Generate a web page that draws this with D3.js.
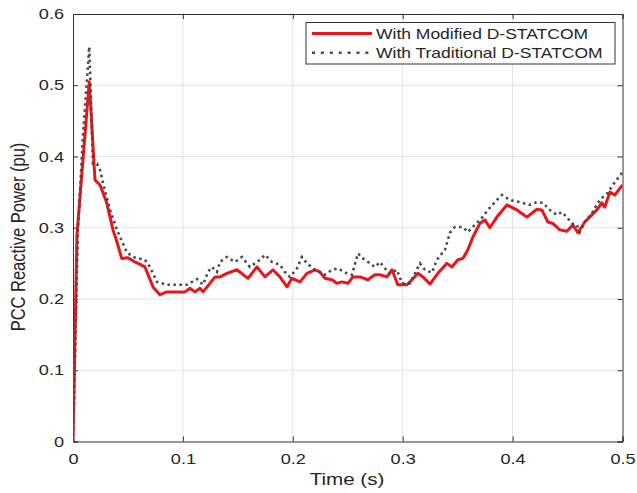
<!DOCTYPE html>
<html>
<head>
<meta charset="utf-8">
<script src="https://cdn.jsdelivr.net/npm/d3@7/dist/d3.min.js"></script>
<style>
  html, body { margin: 0; padding: 0; background: #fff; }
  svg { display: block; }
  text { font-family: "Liberation Sans", Arial, sans-serif; fill: #262626; }
</style>
</head>
<body>
<svg id="chart" width="637" height="493"></svg>
<script>
// PCC reactive power response, modified vs traditional D-STATCOM
const modTime = [0, 0.0036, 0.0148, 0.0200, 0.0246, 0.0307, 0.0364, 0.0400, 0.0443, 0.0500,
  0.0564, 0.0655, 0.0728, 0.0791, 0.0855, 0.1019, 0.1064, 0.1110, 0.1155, 0.1183,
  0.1246, 0.1292, 0.1337, 0.1401, 0.1492, 0.1592, 0.1674, 0.1747, 0.1819, 0.1883,
  0.1947, 0.1992, 0.2065, 0.2129, 0.2201, 0.2247, 0.2292, 0.2356, 0.2402, 0.2447,
  0.2502, 0.2547, 0.2611, 0.2683, 0.2747, 0.2793, 0.2856, 0.2902, 0.2956, 0.3038,
  0.3084, 0.3138, 0.3184, 0.3248, 0.3320, 0.3402, 0.3448, 0.3502, 0.3548, 0.3593,
  0.3639, 0.3702, 0.3748, 0.3793, 0.3857, 0.3948, 0.4039, 0.4130, 0.4221, 0.4266,
  0.4321, 0.4366, 0.4430, 0.4494, 0.4548, 0.4594, 0.4657, 0.4721, 0.4767, 0.4812,
  0.4839, 0.4885, 0.4930, 0.5000];
const modQ = [0, 0.290, 0.505, 0.367, 0.360, 0.335, 0.297, 0.280, 0.257, 0.258,
  0.252, 0.245, 0.217, 0.206, 0.210, 0.210, 0.215, 0.210, 0.215, 0.210,
  0.222, 0.231, 0.231, 0.236, 0.241, 0.229, 0.245, 0.231, 0.241, 0.231,
  0.217, 0.229, 0.224, 0.236, 0.241, 0.238, 0.229, 0.227, 0.222, 0.224,
  0.222, 0.231, 0.231, 0.227, 0.234, 0.234, 0.231, 0.241, 0.220, 0.220,
  0.227, 0.236, 0.231, 0.221, 0.236, 0.250, 0.245, 0.255, 0.257, 0.269,
  0.287, 0.306, 0.311, 0.300, 0.315, 0.332, 0.325, 0.315, 0.326, 0.325,
  0.308, 0.306, 0.297, 0.295, 0.304, 0.293, 0.308, 0.318, 0.325, 0.335,
  0.329, 0.350, 0.346, 0.360];

const tradTime = [0, 0.0045, 0.0091, 0.0148, 0.0182, 0.0218, 0.0246, 0.0273, 0.0337, 0.0400,
  0.0491, 0.0564, 0.0655, 0.0700, 0.0764, 0.0855, 0.1037, 0.1083, 0.1128, 0.1183,
  0.1228, 0.1264, 0.1310, 0.1337, 0.1401, 0.1474, 0.1537, 0.1610, 0.1701, 0.1747,
  0.1810, 0.1883, 0.1947, 0.1974, 0.2038, 0.2083, 0.2129, 0.2201, 0.2292, 0.2356,
  0.2410, 0.2492, 0.2538, 0.2593, 0.2638, 0.2702, 0.2747, 0.2793, 0.2838, 0.2884,
  0.2947, 0.2993, 0.3066, 0.3111, 0.3157, 0.3202, 0.3266, 0.3311, 0.3384, 0.3430,
  0.3475, 0.3548, 0.3593, 0.3657, 0.3721, 0.3775, 0.3857, 0.3903, 0.3975, 0.4066,
  0.4157, 0.4221, 0.4275, 0.4339, 0.4403, 0.4448, 0.4494, 0.4539, 0.4585, 0.4612,
  0.4657, 0.4721, 0.4776, 0.4821, 0.4867, 0.4912, 0.5000];
const tradQ = [0, 0.297, 0.430, 0.554, 0.390, 0.390, 0.381, 0.363, 0.325, 0.297,
  0.265, 0.258, 0.255, 0.245, 0.224, 0.220, 0.220, 0.224, 0.228, 0.220,
  0.238, 0.245, 0.238, 0.252, 0.259, 0.252, 0.259, 0.245, 0.255, 0.262,
  0.252, 0.248, 0.234, 0.231, 0.243, 0.259, 0.250, 0.241, 0.234, 0.241,
  0.243, 0.236, 0.234, 0.264, 0.257, 0.250, 0.245, 0.252, 0.243, 0.236,
  0.241, 0.222, 0.222, 0.236, 0.250, 0.241, 0.237, 0.255, 0.269, 0.293,
  0.301, 0.301, 0.294, 0.304, 0.314, 0.325, 0.339, 0.346, 0.339, 0.336,
  0.332, 0.336, 0.335, 0.325, 0.318, 0.322, 0.315, 0.306, 0.304, 0.294,
  0.308, 0.320, 0.335, 0.343, 0.349, 0.360, 0.378];

const xTicks = [0, 0.1, 0.2, 0.3, 0.4, 0.5];
const xTickLabels = ["0", "0.1", "0.2", "0.3", "0.4", "0.5"];
const yTicks = [0, 0.1, 0.2, 0.3, 0.4, 0.5, 0.6];
const yTickLabels = ["0", "0.1", "0.2", "0.3", "0.4", "0.5", "0.6"];
const seriesNames = ["With Modified D-STATCOM", "With Traditional D-STATCOM"];
const xTitle = "Time (s)";
const yTitle = "PCC Reactive Power (pu)";

const svg = d3.select("#chart");
const plotLeft = 73, plotRight = 622.5, plotTop = 14, plotBottom = 441.5;
const SX = 1.25; // horizontal text stretch

const x = d3.scaleLinear().domain([0, 0.5]).range([plotLeft, plotRight]);
const y = d3.scaleLinear().domain([0, 0.6]).range([plotBottom, plotTop]);

// grid
const grid = svg.append("g").attr("stroke", "#e3e3e3").attr("stroke-width", 1);
grid.selectAll(".vx").data(xTicks.slice(1, -1)).join("line")
  .attr("x1", d => x(d)).attr("x2", d => x(d)).attr("y1", plotTop).attr("y2", plotBottom);
grid.selectAll(".hy").data(yTicks.slice(1, -1)).join("line")
  .attr("y1", d => y(d)).attr("y2", d => y(d)).attr("x1", plotLeft).attr("x2", plotRight);

// axes
const xAxis = d3.axisBottom(x).tickValues(xTicks).tickSize(-5).tickPadding(12)
  .tickFormat((d, i) => xTickLabels[i]);
const yAxis = d3.axisLeft(y).tickValues(yTicks).tickSize(-5).tickPadding(9)
  .tickFormat((d, i) => yTickLabels[i]);
const xTopAxis = d3.axisTop(x).tickValues(xTicks).tickSize(-5).tickFormat("");
const yRightAxis = d3.axisRight(y).tickValues(yTicks).tickSize(-5).tickFormat("");

function styleAxis(g) {
  g.select(".domain").attr("stroke", "#333").attr("stroke-width", 1);
  g.selectAll(".tick line").attr("stroke", "#333");
  g.selectAll("text").style("font-family", '"Liberation Sans", Arial, sans-serif')
    .attr("font-size", 14.5).attr("fill", "#262626");
}

svg.append("g").attr("transform", `translate(0,${plotBottom})`).call(xAxis).call(styleAxis)
  .call(g => g.selectAll(".tick text").attr("transform", `scale(${SX},1)`));
svg.append("g").attr("transform", `translate(${plotLeft},0)`).call(yAxis).call(styleAxis)
  .call(g => g.selectAll(".tick text").attr("x", -9 / SX).attr("transform", `scale(${SX},1)`));
svg.append("g").attr("transform", `translate(0,${plotTop})`).call(xTopAxis).call(styleAxis);
svg.append("g").attr("transform", `translate(${plotRight},0)`).call(yRightAxis).call(styleAxis);

// curves
svg.append("clipPath").attr("id", "plotClip").append("rect")
  .attr("x", plotLeft).attr("y", plotTop)
  .attr("width", plotRight - plotLeft).attr("height", plotBottom - plotTop);

const line = d3.line().x(d => x(d[0])).y(d => y(d[1]));
const modPts = modTime.map((t, i) => [t, modQ[i]]);
const tradPts = tradTime.map((t, i) => [t, tradQ[i]]);

const plot = svg.append("g").attr("clip-path", "url(#plotClip)");
plot.append("path").datum(modPts).attr("d", line)
  .attr("fill", "none").attr("stroke", "#e8161c").attr("stroke-width", 3)
  .attr("stroke-linejoin", "round");
plot.append("path").datum(tradPts).attr("d", line)
  .attr("fill", "none").attr("stroke", "#4a4a4a").attr("stroke-width", 2.6)
  .attr("stroke-dasharray", "2.5,3.5");

// axis titles
svg.append("text").attr("transform", `translate(347,485) scale(${SX},1)`)
  .attr("text-anchor", "middle").attr("font-size", 16.5).text(xTitle);
svg.append("text").attr("transform", `translate(25,237) scale(${SX},1) rotate(-90)`)
  .attr("text-anchor", "middle").attr("font-size", 16.5).text(yTitle);

// legend
const lg = svg.append("g");
lg.append("rect").attr("x", 306).attr("y", 22.5).attr("width", 309).attr("height", 41.5)
  .attr("fill", "#fff").attr("stroke", "#333").attr("stroke-width", 1);
const legendStyles = [
  { stroke: "#e8161c", width: 3, dash: null },
  { stroke: "#4a4a4a", width: 2.6, dash: "3,5.9" }
];
seriesNames.forEach((name, i) => {
  const cy = 33.5 + i * 19.3;
  const l = lg.append("line").attr("x1", 312).attr("x2", 372).attr("y1", cy).attr("y2", cy)
    .attr("stroke", legendStyles[i].stroke).attr("stroke-width", legendStyles[i].width);
  if (legendStyles[i].dash) l.attr("stroke-dasharray", legendStyles[i].dash);
  lg.append("text").attr("transform", `translate(376,${cy + 5}) scale(${SX},1)`)
    .attr("font-size", 14).text(name);
});
</script>
</body>
</html>
